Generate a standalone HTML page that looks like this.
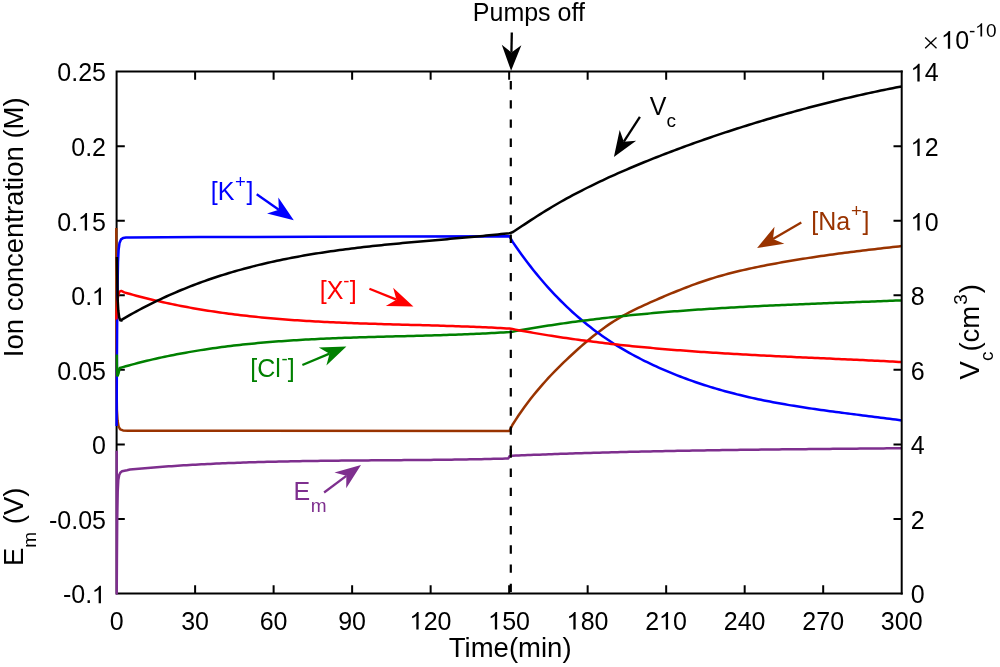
<!DOCTYPE html>
<html><head><meta charset="utf-8"><style>
html,body{margin:0;padding:0;background:#fff;}
body{width:1000px;height:667px;overflow:hidden;font-family:"Liberation Sans",sans-serif;}
svg{display:block;will-change:transform;}
</style></head><body>
<svg width="1000" height="667" viewBox="0 0 1000 667">
<rect width="1000" height="667" fill="#ffffff"/>
<g fill="none" stroke="#000" stroke-width="2" stroke-linecap="butt">
<path stroke-linecap="square" d="M901.70 71.60H116.60M116.60 71.60V593.50H901.70"/>
<path d="M195.11 593.50V585.30M195.11 71.60V79.80M273.62 593.50V585.30M273.62 71.60V79.80M352.13 593.50V585.30M352.13 71.60V79.80M430.64 593.50V585.30M430.64 71.60V79.80M509.15 593.50V585.30M509.15 71.60V79.80M587.66 593.50V585.30M587.66 71.60V79.80M666.17 593.50V585.30M666.17 71.60V79.80M744.68 593.50V585.30M744.68 71.60V79.80M823.19 593.50V585.30M823.19 71.60V79.80M116.60 146.16H124.80M116.60 220.71H124.80M116.60 295.27H124.80M116.60 369.83H124.80M116.60 444.39H124.80M116.60 518.94H124.80"/>
</g>
<g fill="none" stroke-width="2.5" stroke-linejoin="round" stroke-linecap="butt">
<polyline stroke="#993300" points="116.30,228.00 116.35,300.00 116.50,380.00 116.90,410.00 117.60,421.00 118.60,426.50 120.20,429.30 123.00,430.40 128.00,430.70 136.00,430.80 509.50,430.90 512.49,424.77 515.49,420.08 518.48,415.56 521.48,411.22 524.47,407.03 527.46,402.99 530.46,399.08 533.45,395.30 536.45,391.64 539.44,388.08 542.43,384.61 545.43,381.24 548.42,377.96 551.41,374.75 554.41,371.63 557.40,368.57 560.40,365.59 563.39,362.66 566.38,359.79 569.38,356.98 572.37,354.21 575.37,351.49 578.36,348.80 581.35,346.16 584.35,343.56 587.34,341.01 590.34,338.52 593.33,336.09 596.32,333.71 599.32,331.40 602.31,329.16 605.30,326.99 608.30,324.90 611.29,322.89 614.29,320.96 617.28,319.11 620.27,317.33 623.27,315.62 626.26,313.98 629.26,312.39 632.25,310.86 635.24,309.37 638.24,307.92 641.23,306.51 644.23,305.13 647.22,303.78 650.21,302.45 653.21,301.13 656.20,299.82 659.19,298.52 662.19,297.23 665.18,295.96 668.18,294.70 671.17,293.45 674.16,292.22 677.16,291.00 680.15,289.80 683.15,288.62 686.14,287.46 689.13,286.32 692.13,285.20 695.12,284.11 698.12,283.03 701.11,281.99 704.10,280.97 707.10,279.97 710.09,279.01 713.08,278.07 716.08,277.17 719.07,276.29 722.07,275.43 725.06,274.60 728.05,273.80 731.05,273.02 734.04,272.26 737.04,271.52 740.03,270.81 743.02,270.11 746.02,269.43 749.01,268.77 752.01,268.12 755.00,267.49 757.99,266.87 760.99,266.27 763.98,265.68 766.97,265.10 769.97,264.53 772.96,263.97 775.96,263.42 778.95,262.87 781.94,262.34 784.94,261.81 787.93,261.30 790.93,260.79 793.92,260.29 796.91,259.79 799.91,259.31 802.90,258.83 805.90,258.36 808.89,257.89 811.88,257.44 814.88,256.99 817.87,256.54 820.86,256.11 823.86,255.67 826.85,255.25 829.85,254.83 832.84,254.42 835.83,254.01 838.83,253.61 841.82,253.21 844.82,252.82 847.81,252.43 850.80,252.05 853.80,251.67 856.79,251.30 859.79,250.93 862.78,250.57 865.77,250.20 868.77,249.85 871.76,249.49 874.75,249.14 877.75,248.80 880.74,248.45 883.74,248.11 886.73,247.77 889.72,247.44 892.72,247.10 895.71,246.77 898.71,246.44 901.70,246.11"/>
<polyline stroke="#0000ff" points="116.60,426.00 116.80,380.00 117.10,330.00 117.50,290.00 118.00,262.00 118.60,250.00 119.50,243.00 121.00,239.40 123.00,238.10 126.00,237.60 130.00,237.40 200.00,237.10 315.00,236.80 400.00,236.60 509.50,236.30 512.49,241.64 515.49,246.00 518.48,250.26 521.48,254.43 524.47,258.50 527.46,262.48 530.46,266.37 533.45,270.16 536.45,273.87 539.44,277.49 542.43,281.02 545.43,284.47 548.42,287.84 551.41,291.12 554.41,294.33 557.40,297.46 560.40,300.50 563.39,303.48 566.38,306.38 569.38,309.21 572.37,311.96 575.37,314.65 578.36,317.27 581.35,319.82 584.35,322.31 587.34,324.74 590.34,327.10 593.33,329.40 596.32,331.65 599.32,333.83 602.31,335.96 605.30,338.04 608.30,340.06 611.29,342.03 614.29,343.95 617.28,345.83 620.27,347.65 623.27,349.44 626.26,351.17 629.26,352.87 632.25,354.52 635.24,356.14 638.24,357.71 641.23,359.25 644.23,360.76 647.22,362.23 650.21,363.67 653.21,365.08 656.20,366.47 659.19,367.82 662.19,369.14 665.18,370.44 668.18,371.71 671.17,372.95 674.16,374.17 677.16,375.36 680.15,376.53 683.15,377.67 686.14,378.78 689.13,379.87 692.13,380.94 695.12,381.98 698.12,383.00 701.11,384.00 704.10,384.97 707.10,385.93 710.09,386.86 713.08,387.77 716.08,388.66 719.07,389.53 722.07,390.38 725.06,391.21 728.05,392.02 731.05,392.81 734.04,393.58 737.04,394.34 740.03,395.08 743.02,395.80 746.02,396.50 749.01,397.19 752.01,397.86 755.00,398.52 757.99,399.16 760.99,399.79 763.98,400.41 766.97,401.01 769.97,401.59 772.96,402.17 775.96,402.73 778.95,403.28 781.94,403.81 784.94,404.34 787.93,404.86 790.93,405.36 793.92,405.85 796.91,406.34 799.91,406.82 802.90,407.28 805.90,407.74 808.89,408.19 811.88,408.63 814.88,409.07 817.87,409.50 820.86,409.92 823.86,410.34 826.85,410.75 829.85,411.15 832.84,411.55 835.83,411.95 838.83,412.34 841.82,412.73 844.82,413.12 847.81,413.50 850.80,413.88 853.80,414.26 856.79,414.63 859.79,415.01 862.78,415.39 865.77,415.76 868.77,416.14 871.76,416.51 874.75,416.89 877.75,417.27 880.74,417.65 883.74,418.03 886.73,418.41 889.72,418.80 892.72,419.19 895.71,419.59 898.71,419.99 901.70,420.39"/>
<polyline stroke="#008000" points="116.80,354.50 116.95,365.00 117.20,375.50 117.70,375.60 118.60,373.00 119.80,368.00 122.80,367.13 125.80,366.29 128.79,365.46 131.79,364.64 134.79,363.85 137.79,363.07 140.78,362.30 143.78,361.55 146.78,360.82 149.78,360.11 152.77,359.40 155.77,358.72 158.77,358.05 161.77,357.39 164.77,356.75 167.76,356.12 170.76,355.51 173.76,354.91 176.76,354.33 179.75,353.76 182.75,353.20 185.75,352.66 188.75,352.13 191.74,351.61 194.74,351.11 197.74,350.61 200.74,350.13 203.74,349.67 206.73,349.21 209.73,348.77 212.73,348.33 215.73,347.91 218.72,347.50 221.72,347.10 224.72,346.71 227.72,346.34 230.71,345.97 233.71,345.61 236.71,345.27 239.71,344.93 242.71,344.60 245.70,344.28 248.70,343.98 251.70,343.68 254.70,343.39 257.69,343.10 260.69,342.83 263.69,342.56 266.69,342.31 269.68,342.06 272.68,341.82 275.68,341.58 278.68,341.36 281.68,341.14 284.67,340.92 287.67,340.72 290.67,340.52 293.67,340.33 296.66,340.14 299.66,339.96 302.66,339.79 305.66,339.62 308.65,339.46 311.65,339.30 314.65,339.15 317.65,339.00 320.65,338.86 323.64,338.72 326.64,338.59 329.64,338.46 332.64,338.33 335.63,338.21 338.63,338.10 341.63,337.98 344.63,337.87 347.62,337.77 350.62,337.66 353.62,337.56 356.62,337.47 359.62,337.37 362.61,337.28 365.61,337.19 368.61,337.10 371.61,337.02 374.60,336.93 377.60,336.85 380.60,336.77 383.60,336.69 386.59,336.61 389.59,336.53 392.59,336.45 395.59,336.37 398.59,336.30 401.58,336.22 404.58,336.14 407.58,336.07 410.58,335.99 413.57,335.91 416.57,335.83 419.57,335.75 422.57,335.67 425.56,335.59 428.56,335.51 431.56,335.42 434.56,335.33 437.56,335.24 440.55,335.15 443.55,335.06 446.55,334.96 449.55,334.86 452.54,334.76 455.54,334.66 458.54,334.55 461.54,334.44 464.53,334.32 467.53,334.20 470.53,334.08 473.53,333.96 476.53,333.82 479.52,333.69 482.52,333.55 485.52,333.40 488.52,333.25 491.51,333.10 494.51,332.94 497.51,332.77 500.51,332.60 503.50,332.42 506.50,332.24 509.50,332.05 512.49,331.68 515.49,331.13 518.48,330.59 521.48,330.06 524.47,329.54 527.46,329.02 530.46,328.51 533.45,328.01 536.45,327.52 539.44,327.03 542.43,326.55 545.43,326.07 548.42,325.61 551.41,325.15 554.41,324.69 557.40,324.25 560.40,323.81 563.39,323.38 566.38,322.95 569.38,322.53 572.37,322.11 575.37,321.71 578.36,321.31 581.35,320.91 584.35,320.52 587.34,320.14 590.34,319.76 593.33,319.39 596.32,319.03 599.32,318.67 602.31,318.31 605.30,317.96 608.30,317.62 611.29,317.28 614.29,316.95 617.28,316.63 620.27,316.31 623.27,315.99 626.26,315.68 629.26,315.37 632.25,315.07 635.24,314.78 638.24,314.49 641.23,314.20 644.23,313.92 647.22,313.65 650.21,313.38 653.21,313.11 656.20,312.85 659.19,312.59 662.19,312.33 665.18,312.09 668.18,311.84 671.17,311.60 674.16,311.36 677.16,311.13 680.15,310.90 683.15,310.68 686.14,310.46 689.13,310.24 692.13,310.03 695.12,309.82 698.12,309.61 701.11,309.41 704.10,309.21 707.10,309.01 710.09,308.82 713.08,308.63 716.08,308.45 719.07,308.26 722.07,308.08 725.06,307.91 728.05,307.73 731.05,307.56 734.04,307.40 737.04,307.23 740.03,307.07 743.02,306.91 746.02,306.75 749.01,306.59 752.01,306.44 755.00,306.29 757.99,306.14 760.99,306.00 763.98,305.85 766.97,305.71 769.97,305.57 772.96,305.43 775.96,305.30 778.95,305.16 781.94,305.03 784.94,304.90 787.93,304.77 790.93,304.64 793.92,304.52 796.91,304.39 799.91,304.27 802.90,304.14 805.90,304.02 808.89,303.90 811.88,303.78 814.88,303.67 817.87,303.55 820.86,303.43 823.86,303.32 826.85,303.20 829.85,303.09 832.84,302.98 835.83,302.86 838.83,302.75 841.82,302.64 844.82,302.53 847.81,302.41 850.80,302.30 853.80,302.19 856.79,302.08 859.79,301.97 862.78,301.86 865.77,301.75 868.77,301.64 871.76,301.52 874.75,301.41 877.75,301.30 880.74,301.19 883.74,301.07 886.73,300.96 889.72,300.84 892.72,300.73 895.71,300.61 898.71,300.50 901.70,300.38"/>
<polyline stroke="#ff0000" points="116.30,319.50 116.70,312.00 117.30,302.00 118.20,295.00 119.50,291.60 121.30,290.90 124.29,292.38 127.27,293.23 130.26,294.07 133.24,294.88 136.23,295.69 139.22,296.47 142.20,297.25 145.19,298.00 148.18,298.74 151.16,299.47 154.15,300.18 157.13,300.88 160.12,301.56 163.11,302.23 166.09,302.89 169.08,303.53 172.06,304.15 175.05,304.77 178.04,305.37 181.02,305.95 184.01,306.53 187.00,307.09 189.98,307.64 192.97,308.17 195.95,308.69 198.94,309.20 201.93,309.70 204.91,310.19 207.90,310.67 210.88,311.13 213.87,311.58 216.86,312.02 219.84,312.45 222.83,312.87 225.82,313.28 228.80,313.68 231.79,314.07 234.77,314.45 237.76,314.81 240.75,315.17 243.73,315.52 246.72,315.86 249.70,316.19 252.69,316.51 255.68,316.82 258.66,317.12 261.65,317.42 264.64,317.70 267.62,317.98 270.61,318.25 273.59,318.51 276.58,318.76 279.57,319.01 282.55,319.25 285.54,319.48 288.52,319.70 291.51,319.92 294.50,320.13 297.48,320.33 300.47,320.53 303.46,320.72 306.44,320.90 309.43,321.08 312.41,321.26 315.40,321.42 318.39,321.59 321.37,321.74 324.36,321.90 327.34,322.04 330.33,322.19 333.32,322.32 336.30,322.46 339.29,322.59 342.28,322.71 345.26,322.83 348.25,322.95 351.23,323.07 354.22,323.18 357.21,323.28 360.19,323.39 363.18,323.49 366.16,323.59 369.15,323.69 372.14,323.78 375.12,323.87 378.11,323.96 381.10,324.05 384.08,324.14 387.07,324.23 390.05,324.31 393.04,324.39 396.03,324.47 399.01,324.56 402.00,324.64 404.98,324.72 407.97,324.80 410.96,324.88 413.94,324.96 416.93,325.04 419.92,325.12 422.90,325.20 425.89,325.28 428.87,325.36 431.86,325.44 434.85,325.53 437.83,325.62 440.82,325.70 443.80,325.79 446.79,325.89 449.78,325.98 452.76,326.08 455.75,326.17 458.74,326.27 461.72,326.38 464.71,326.49 467.69,326.60 470.68,326.71 473.67,326.83 476.65,326.95 479.64,327.07 482.62,327.20 485.61,327.33 488.60,327.47 491.58,327.61 494.57,327.75 497.56,327.90 500.54,328.06 503.53,328.22 506.51,328.39 509.50,328.56 512.49,329.06 515.49,329.63 518.48,330.19 521.48,330.74 524.47,331.29 527.46,331.82 530.46,332.35 533.45,332.87 536.45,333.38 539.44,333.89 542.43,334.38 545.43,334.87 548.42,335.36 551.41,335.83 554.41,336.30 557.40,336.76 560.40,337.21 563.39,337.66 566.38,338.10 569.38,338.53 572.37,338.95 575.37,339.37 578.36,339.78 581.35,340.19 584.35,340.58 587.34,340.98 590.34,341.36 593.33,341.74 596.32,342.11 599.32,342.48 602.31,342.84 605.30,343.20 608.30,343.55 611.29,343.89 614.29,344.23 617.28,344.56 620.27,344.89 623.27,345.21 626.26,345.52 629.26,345.83 632.25,346.14 635.24,346.44 638.24,346.73 641.23,347.02 644.23,347.30 647.22,347.58 650.21,347.86 653.21,348.13 656.20,348.40 659.19,348.66 662.19,348.91 665.18,349.17 668.18,349.41 671.17,349.66 674.16,349.90 677.16,350.13 680.15,350.36 683.15,350.59 686.14,350.82 689.13,351.04 692.13,351.25 695.12,351.46 698.12,351.67 701.11,351.88 704.10,352.08 707.10,352.28 710.09,352.48 713.08,352.67 716.08,352.86 719.07,353.05 722.07,353.23 725.06,353.41 728.05,353.59 731.05,353.77 734.04,353.94 737.04,354.11 740.03,354.28 743.02,354.45 746.02,354.61 749.01,354.77 752.01,354.93 755.00,355.09 757.99,355.25 760.99,355.40 763.98,355.55 766.97,355.70 769.97,355.85 772.96,356.00 775.96,356.15 778.95,356.29 781.94,356.44 784.94,356.58 787.93,356.72 790.93,356.86 793.92,357.00 796.91,357.14 799.91,357.27 802.90,357.41 805.90,357.55 808.89,357.68 811.88,357.82 814.88,357.95 817.87,358.09 820.86,358.22 823.86,358.35 826.85,358.49 829.85,358.62 832.84,358.75 835.83,358.89 838.83,359.02 841.82,359.16 844.82,359.29 847.81,359.43 850.80,359.56 853.80,359.70 856.79,359.84 859.79,359.97 862.78,360.11 865.77,360.25 868.77,360.39 871.76,360.54 874.75,360.68 877.75,360.82 880.74,360.97 883.74,361.12 886.73,361.27 889.72,361.42 892.72,361.57 895.71,361.72 898.71,361.88 901.70,362.03"/>
<polyline stroke="#7e2f8e" points="116.70,450.80 116.70,593.50 116.90,560.00 117.20,520.00 117.70,492.00 118.30,480.00 119.20,475.00 120.50,472.40 122.00,471.20 127.00,470.20 129.98,469.53 132.96,469.25 135.94,468.98 138.92,468.71 141.89,468.45 144.87,468.19 147.85,467.94 150.83,467.70 153.81,467.46 156.79,467.23 159.77,467.00 162.75,466.78 165.73,466.56 168.70,466.35 171.68,466.15 174.66,465.94 177.64,465.75 180.62,465.56 183.60,465.37 186.58,465.19 189.56,465.01 192.54,464.84 195.51,464.67 198.49,464.51 201.47,464.35 204.45,464.20 207.43,464.05 210.41,463.90 213.39,463.76 216.37,463.62 219.35,463.49 222.32,463.36 225.30,463.24 228.28,463.12 231.26,463.00 234.24,462.88 237.22,462.77 240.20,462.67 243.18,462.56 246.16,462.46 249.14,462.37 252.11,462.27 255.09,462.18 258.07,462.10 261.05,462.01 264.03,461.93 267.01,461.85 269.99,461.78 272.97,461.70 275.95,461.63 278.92,461.57 281.90,461.50 284.88,461.44 287.86,461.38 290.84,461.32 293.82,461.26 296.80,461.21 299.78,461.16 302.76,461.11 305.73,461.06 308.71,461.02 311.69,460.97 314.67,460.93 317.65,460.89 320.63,460.85 323.61,460.82 326.59,460.78 329.57,460.75 332.54,460.71 335.52,460.68 338.50,460.65 341.48,460.62 344.46,460.59 347.44,460.56 350.42,460.54 353.40,460.51 356.38,460.49 359.35,460.46 362.33,460.44 365.31,460.41 368.29,460.39 371.27,460.37 374.25,460.35 377.23,460.32 380.21,460.30 383.19,460.28 386.16,460.26 389.14,460.24 392.12,460.21 395.10,460.19 398.08,460.17 401.06,460.15 404.04,460.12 407.02,460.10 410.00,460.07 412.98,460.05 415.95,460.02 418.93,460.00 421.91,459.97 424.89,459.94 427.87,459.91 430.85,459.88 433.83,459.85 436.81,459.82 439.79,459.78 442.76,459.75 445.74,459.71 448.72,459.67 451.70,459.63 454.68,459.59 457.66,459.55 460.64,459.50 463.62,459.45 466.60,459.41 469.57,459.35 472.55,459.30 475.53,459.25 478.51,459.19 481.49,459.13 484.47,459.07 487.45,459.00 490.43,458.94 493.41,458.87 496.38,458.79 499.36,458.72 502.34,458.64 505.32,458.56 508.30,458.48 509.80,455.87 512.79,455.74 515.78,455.61 518.77,455.48 521.77,455.36 524.76,455.23 527.75,455.11 530.74,454.99 533.73,454.87 536.72,454.75 539.72,454.63 542.71,454.52 545.70,454.41 548.69,454.29 551.68,454.18 554.67,454.08 557.67,453.97 560.66,453.87 563.65,453.76 566.64,453.66 569.63,453.56 572.62,453.46 575.62,453.36 578.61,453.27 581.60,453.17 584.59,453.08 587.58,452.99 590.57,452.90 593.56,452.81 596.56,452.73 599.55,452.64 602.54,452.56 605.53,452.47 608.52,452.39 611.51,452.31 614.51,452.23 617.50,452.15 620.49,452.08 623.48,452.00 626.47,451.93 629.46,451.85 632.46,451.78 635.45,451.71 638.44,451.64 641.43,451.58 644.42,451.51 647.41,451.44 650.41,451.38 653.40,451.31 656.39,451.25 659.38,451.19 662.37,451.13 665.36,451.07 668.35,451.01 671.35,450.95 674.34,450.90 677.33,450.84 680.32,450.79 683.31,450.73 686.30,450.68 689.30,450.63 692.29,450.58 695.28,450.53 698.27,450.48 701.26,450.43 704.25,450.38 707.25,450.33 710.24,450.29 713.23,450.24 716.22,450.20 719.21,450.15 722.20,450.11 725.20,450.07 728.19,450.03 731.18,449.98 734.17,449.94 737.16,449.90 740.15,449.87 743.15,449.83 746.14,449.79 749.13,449.75 752.12,449.71 755.11,449.68 758.10,449.64 761.09,449.61 764.09,449.57 767.08,449.54 770.07,449.50 773.06,449.47 776.05,449.44 779.04,449.40 782.04,449.37 785.03,449.34 788.02,449.31 791.01,449.28 794.00,449.25 796.99,449.22 799.99,449.19 802.98,449.16 805.97,449.13 808.96,449.10 811.95,449.07 814.94,449.04 817.94,449.01 820.93,448.98 823.92,448.95 826.91,448.92 829.90,448.90 832.89,448.87 835.88,448.84 838.88,448.81 841.87,448.78 844.86,448.76 847.85,448.73 850.84,448.70 853.83,448.67 856.83,448.65 859.82,448.62 862.81,448.59 865.80,448.56 868.79,448.54 871.78,448.51 874.78,448.48 877.77,448.45 880.76,448.42 883.75,448.40 886.74,448.37 889.73,448.34 892.73,448.31 895.72,448.28 898.71,448.25 901.70,448.22"/>
</g>
<g stroke="#000" stroke-width="2.2">
<line x1="510.8" y1="81" x2="510.8" y2="454.4" stroke-dasharray="8.4 10.79"/>
<line x1="510.8" y1="449.3" x2="510.8" y2="593.5" stroke-dasharray="8.4 10.79"/>
</g>
<polyline fill="none" stroke="#000" stroke-width="2.5" stroke-linejoin="round" points="116.90,257.00 117.30,280.00 117.70,300.00 118.30,310.50 119.20,317.50 120.30,320.30 121.50,320.60 121.50,319.85 124.49,318.09 127.48,316.37 130.47,314.68 133.45,313.01 136.44,311.38 139.43,309.77 142.42,308.19 145.41,306.64 148.40,305.11 151.38,303.61 154.37,302.14 157.36,300.69 160.35,299.27 163.34,297.87 166.33,296.50 169.32,295.16 172.30,293.84 175.29,292.54 178.28,291.27 181.27,290.02 184.26,288.79 187.25,287.59 190.23,286.41 193.22,285.26 196.21,284.12 199.20,283.01 202.19,281.92 205.18,280.85 208.17,279.80 211.15,278.77 214.14,277.77 217.13,276.78 220.12,275.81 223.11,274.87 226.10,273.94 229.08,273.03 232.07,272.14 235.06,271.27 238.05,270.41 241.04,269.58 244.03,268.76 247.02,267.95 250.00,267.17 252.99,266.40 255.98,265.65 258.97,264.91 261.96,264.19 264.95,263.49 267.93,262.80 270.92,262.12 273.91,261.46 276.90,260.82 279.89,260.18 282.88,259.56 285.87,258.96 288.85,258.37 291.84,257.79 294.83,257.22 297.82,256.67 300.81,256.12 303.80,255.59 306.78,255.08 309.77,254.57 312.76,254.07 315.75,253.59 318.74,253.11 321.73,252.65 324.72,252.20 327.70,251.75 330.69,251.32 333.68,250.89 336.67,250.48 339.66,250.07 342.65,249.67 345.63,249.28 348.62,248.90 351.61,248.52 354.60,248.16 357.59,247.80 360.58,247.45 363.57,247.10 366.55,246.76 369.54,246.43 372.53,246.10 375.52,245.78 378.51,245.46 381.50,245.15 384.48,244.85 387.47,244.55 390.46,244.25 393.45,243.96 396.44,243.67 399.43,243.39 402.42,243.11 405.40,242.83 408.39,242.55 411.38,242.28 414.37,242.01 417.36,241.74 420.35,241.48 423.33,241.21 426.32,240.95 429.31,240.69 432.30,240.43 435.29,240.17 438.28,239.91 441.27,239.65 444.25,239.39 447.24,239.13 450.23,238.87 453.22,238.61 456.21,238.35 459.20,238.08 462.18,237.82 465.17,237.55 468.16,237.28 471.15,237.01 474.14,236.73 477.13,236.45 480.12,236.17 483.10,235.89 486.09,235.60 489.08,235.30 492.07,235.01 495.06,234.71 498.05,234.40 501.03,234.09 504.02,233.77 507.01,233.45 510.00,233.12 512.99,231.99 515.98,230.01 518.97,228.03 521.96,226.06 524.95,224.09 527.94,222.12 530.93,220.17 533.92,218.23 536.91,216.31 539.90,214.40 542.89,212.51 545.88,210.65 548.87,208.82 551.86,207.01 554.85,205.23 557.84,203.49 560.83,201.78 563.82,200.09 566.81,198.44 569.80,196.81 572.79,195.20 575.78,193.62 578.77,192.06 581.76,190.52 584.75,189.00 587.74,187.50 590.73,186.02 593.72,184.55 596.71,183.11 599.70,181.68 602.69,180.27 605.68,178.87 608.67,177.49 611.66,176.13 614.65,174.78 617.64,173.45 620.63,172.13 623.62,170.82 626.61,169.53 629.60,168.25 632.59,166.98 635.58,165.73 638.57,164.49 641.56,163.25 644.55,162.03 647.54,160.82 650.53,159.62 653.52,158.42 656.51,157.24 659.50,156.07 662.49,154.90 665.48,153.75 668.47,152.60 671.46,151.46 674.45,150.33 677.44,149.21 680.43,148.10 683.42,147.00 686.41,145.91 689.40,144.82 692.39,143.74 695.38,142.67 698.37,141.61 701.36,140.56 704.35,139.52 707.35,138.48 710.34,137.45 713.33,136.43 716.32,135.42 719.31,134.41 722.30,133.42 725.29,132.43 728.28,131.44 731.27,130.47 734.26,129.50 737.25,128.54 740.24,127.59 743.23,126.64 746.22,125.70 749.21,124.77 752.20,123.84 755.19,122.92 758.18,122.01 761.17,121.11 764.16,120.21 767.15,119.32 770.14,118.43 773.13,117.56 776.12,116.68 779.11,115.82 782.10,114.96 785.09,114.11 788.08,113.27 791.07,112.43 794.06,111.60 797.05,110.78 800.04,109.97 803.03,109.16 806.02,108.36 809.01,107.56 812.00,106.77 814.99,105.99 817.98,105.22 820.97,104.45 823.96,103.69 826.95,102.94 829.94,102.19 832.93,101.45 835.92,100.72 838.91,100.00 841.90,99.28 844.89,98.57 847.88,97.86 850.87,97.17 853.86,96.48 856.85,95.80 859.84,95.12 862.83,94.45 865.82,93.79 868.81,93.14 871.80,92.49 874.79,91.85 877.78,91.21 880.77,90.59 883.76,89.97 886.75,89.36 889.74,88.75 892.73,88.16 895.72,87.57 898.71,86.98 901.70,86.41"/>
<g fill="none" stroke="#000" stroke-width="2"><path stroke-linecap="square" d="M901.70 71.60V593.50"/><path d="M901.70 146.16H893.50M901.70 220.71H893.50M901.70 295.27H893.50M901.70 369.83H893.50M901.70 444.39H893.50M901.70 518.94H893.50"/></g>
<line x1="511.80" y1="32.40" x2="511.43" y2="52.50" stroke="#000000" stroke-width="2.30"/><polygon points="511.10,70.80 501.77,44.83 511.43,52.50 521.37,45.18" fill="#000000"/>
<line x1="256.70" y1="194.20" x2="278.83" y2="209.77" stroke="#0000ff" stroke-width="2.30"/><polygon points="293.80,220.30 267.06,213.47 278.83,209.77 278.34,197.44" fill="#0000ff"/>
<line x1="369.40" y1="288.70" x2="396.44" y2="299.64" stroke="#ff0000" stroke-width="2.30"/><polygon points="413.40,306.50 385.81,305.91 396.44,299.64 393.16,287.74" fill="#ff0000"/>
<line x1="302.40" y1="365.00" x2="329.52" y2="353.66" stroke="#008000" stroke-width="2.30"/><polygon points="346.40,346.60 326.38,365.60 329.52,353.66 318.82,347.51" fill="#008000"/>
<line x1="324.10" y1="492.50" x2="346.35" y2="475.86" stroke="#7e2f8e" stroke-width="2.30"/><polygon points="361.00,464.90 346.21,488.20 346.35,475.86 334.47,472.51" fill="#7e2f8e"/>
<line x1="639.90" y1="116.80" x2="623.84" y2="141.63" stroke="#000000" stroke-width="2.30"/><polygon points="613.90,157.00 619.68,130.01 623.84,141.63 636.14,140.66" fill="#000000"/>
<line x1="801.30" y1="222.50" x2="772.94" y2="238.93" stroke="#993300" stroke-width="2.30"/><polygon points="757.10,248.10 774.51,226.69 772.94,238.93 784.34,243.65" fill="#993300"/>
<g font-family="&quot;Liberation Sans&quot;, sans-serif" font-size="25" fill="#000">
<text x="57.34" y="81.40" font-size="25" fill="#000">0.25</text>
<text x="71.25" y="155.96" font-size="25" fill="#000">0.2</text>
<text x="57.34" y="230.51" font-size="25" fill="#000">0.</text><path fill="#000" transform="translate(78.19 230.51) scale(25 -25)" d="M0.354 0L0.354 0.703L0.300 0.703C0.250 0.630 0.180 0.570 0.095 0.530L0.095 0.450C0.160 0.475 0.220 0.515 0.262 0.555L0.262 0Z"/><text x="92.10" y="230.51" font-size="25" fill="#000">5</text>
<text x="71.25" y="305.07" font-size="25" fill="#000">0.</text><path fill="#000" transform="translate(92.10 305.07) scale(25 -25)" d="M0.354 0L0.354 0.703L0.300 0.703C0.250 0.630 0.180 0.570 0.095 0.530L0.095 0.450C0.160 0.475 0.220 0.515 0.262 0.555L0.262 0Z"/>
<text x="57.34" y="379.63" font-size="25" fill="#000">0.05</text>
<text x="92.10" y="454.19" font-size="25" fill="#000">0</text>
<text x="49.02" y="528.74" font-size="25" fill="#000">-0.05</text>
<text x="62.92" y="603.30" font-size="25" fill="#000">-0.</text><path fill="#000" transform="translate(92.10 603.30) scale(25 -25)" d="M0.354 0L0.354 0.703L0.300 0.703C0.250 0.630 0.180 0.570 0.095 0.530L0.095 0.450C0.160 0.475 0.220 0.515 0.262 0.555L0.262 0Z"/>
<path fill="#000" transform="translate(910.80 81.40) scale(25 -25)" d="M0.354 0L0.354 0.703L0.300 0.703C0.250 0.630 0.180 0.570 0.095 0.530L0.095 0.450C0.160 0.475 0.220 0.515 0.262 0.555L0.262 0Z"/><text x="924.70" y="81.40" font-size="25" fill="#000">4</text>
<path fill="#000" transform="translate(910.80 155.96) scale(25 -25)" d="M0.354 0L0.354 0.703L0.300 0.703C0.250 0.630 0.180 0.570 0.095 0.530L0.095 0.450C0.160 0.475 0.220 0.515 0.262 0.555L0.262 0Z"/><text x="924.70" y="155.96" font-size="25" fill="#000">2</text>
<path fill="#000" transform="translate(910.80 230.51) scale(25 -25)" d="M0.354 0L0.354 0.703L0.300 0.703C0.250 0.630 0.180 0.570 0.095 0.530L0.095 0.450C0.160 0.475 0.220 0.515 0.262 0.555L0.262 0Z"/><text x="924.70" y="230.51" font-size="25" fill="#000">0</text>
<text x="910.80" y="305.07" font-size="25" fill="#000">8</text>
<text x="910.80" y="379.63" font-size="25" fill="#000">6</text>
<text x="910.80" y="454.19" font-size="25" fill="#000">4</text>
<text x="910.80" y="528.74" font-size="25" fill="#000">2</text>
<text x="910.80" y="603.30" font-size="25" fill="#000">0</text>
<text x="109.65" y="629.50" font-size="25" fill="#000">0</text>
<text x="181.21" y="629.50" font-size="25" fill="#000">30</text>
<text x="259.72" y="629.50" font-size="25" fill="#000">60</text>
<text x="338.23" y="629.50" font-size="25" fill="#000">90</text>
<path fill="#000" transform="translate(409.78 629.50) scale(25 -25)" d="M0.354 0L0.354 0.703L0.300 0.703C0.250 0.630 0.180 0.570 0.095 0.530L0.095 0.450C0.160 0.475 0.220 0.515 0.262 0.555L0.262 0Z"/><text x="423.69" y="629.50" font-size="25" fill="#000">20</text>
<path fill="#000" transform="translate(488.29 629.50) scale(25 -25)" d="M0.354 0L0.354 0.703L0.300 0.703C0.250 0.630 0.180 0.570 0.095 0.530L0.095 0.450C0.160 0.475 0.220 0.515 0.262 0.555L0.262 0Z"/><text x="502.20" y="629.50" font-size="25" fill="#000">50</text>
<path fill="#000" transform="translate(566.80 629.50) scale(25 -25)" d="M0.354 0L0.354 0.703L0.300 0.703C0.250 0.630 0.180 0.570 0.095 0.530L0.095 0.450C0.160 0.475 0.220 0.515 0.262 0.555L0.262 0Z"/><text x="580.71" y="629.50" font-size="25" fill="#000">80</text>
<text x="645.31" y="629.50" font-size="25" fill="#000">2</text><path fill="#000" transform="translate(659.22 629.50) scale(25 -25)" d="M0.354 0L0.354 0.703L0.300 0.703C0.250 0.630 0.180 0.570 0.095 0.530L0.095 0.450C0.160 0.475 0.220 0.515 0.262 0.555L0.262 0Z"/><text x="673.12" y="629.50" font-size="25" fill="#000">0</text>
<text x="723.82" y="629.50" font-size="25" fill="#000">240</text>
<text x="802.33" y="629.50" font-size="25" fill="#000">270</text>
<text x="880.84" y="629.50" font-size="25" fill="#000">300</text>
</g>
<text font-family="&quot;Liberation Sans&quot;, sans-serif" font-size="27.5" x="510.2" y="657.4" text-anchor="middle">Time(min)</text>
<text font-family="&quot;Liberation Sans&quot;, sans-serif" font-size="27.5" transform="translate(23,227.3) rotate(-90)" text-anchor="middle">Ion concentration (M)</text>
<text font-family="&quot;Liberation Sans&quot;, sans-serif" font-size="27.5" transform="translate(23,566) rotate(-90)">E<tspan font-size="19" dy="13.4">m</tspan><tspan dy="-13.4" xml:space="preserve"> (V)</tspan></text>
<text font-family="&quot;Liberation Sans&quot;, sans-serif" font-size="27.5" transform="translate(979.2,379.4) rotate(-90)">V<tspan font-size="19" dy="14">c</tspan><tspan dy="-14">(cm</tspan><tspan font-size="19" dx="1" dy="-12.5">3</tspan><tspan dx="1" dy="12.5">)</tspan></text>
<g stroke="#000" stroke-width="1.3"><line x1="925.2" y1="37.5" x2="936.5" y2="48.3"/><line x1="936.5" y1="37.5" x2="925.2" y2="48.3"/></g>
<g font-family="&quot;Liberation Sans&quot;, sans-serif"><path fill="#000" transform="translate(941.30 48.65) scale(25 -25)" d="M0.354 0L0.354 0.703L0.300 0.703C0.250 0.630 0.180 0.570 0.095 0.530L0.095 0.450C0.160 0.475 0.220 0.515 0.262 0.555L0.262 0Z"/><text x="955.20" y="48.65" font-size="25" fill="#000">0</text><text x="969.10" y="36.60" font-size="19" fill="#000">-</text><path fill="#000" transform="translate(975.43 36.60) scale(19 -19)" d="M0.354 0L0.354 0.703L0.300 0.703C0.250 0.630 0.180 0.570 0.095 0.530L0.095 0.450C0.160 0.475 0.220 0.515 0.262 0.555L0.262 0Z"/><text x="985.99" y="36.60" font-size="19" fill="#000">0</text></g>
<text font-family="&quot;Liberation Sans&quot;, sans-serif" font-size="25" x="472.8" y="20.8">Pumps off</text>
<text font-family="&quot;Liberation Sans&quot;, sans-serif" font-size="25" fill="#0000ff" x="210.8" y="199.5">[K<tspan font-size="18.5" dx="0.6" dy="-12">+</tspan><tspan dx="0.6" dy="12">]</tspan></text>
<text font-family="&quot;Liberation Sans&quot;, sans-serif" font-size="25" fill="#ff0000" x="319.7" y="299.0">[X<tspan font-size="18.5" dx="0" dy="-11.8">-</tspan><tspan dx="0.3" dy="11.8">]</tspan></text>
<text font-family="&quot;Liberation Sans&quot;, sans-serif" font-size="25" fill="#008000" x="250.3" y="376.9">[Cl<tspan font-size="18.5" dx="0.6" dy="-11.8">-</tspan><tspan dx="0" dy="11.8">]</tspan></text>
<text font-family="&quot;Liberation Sans&quot;, sans-serif" font-size="25" fill="#993300" x="811.2" y="230.1">[Na<tspan font-size="18.5" dx="1.0" dy="-12.8">+</tspan><tspan dx="0.6" dy="12.8">]</tspan></text>
<text font-family="&quot;Liberation Sans&quot;, sans-serif" font-size="25" x="649.7" y="115.2">V<tspan font-size="19" dy="11.4">c</tspan></text>
<text font-family="&quot;Liberation Sans&quot;, sans-serif" font-size="25" fill="#7e2f8e" x="293.45" y="500.1">E<tspan font-size="19" dx="0.5" dy="12.1">m</tspan></text>
</svg>
</body></html>
